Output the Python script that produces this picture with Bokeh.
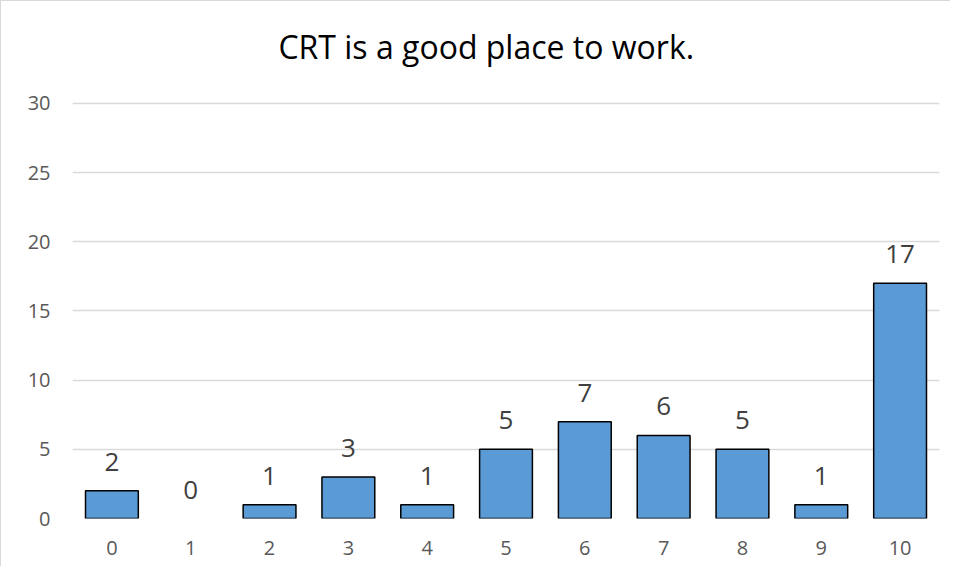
from bokeh.plotting import figure
from bokeh.models import ColumnDataSource, LabelSet, Label, FixedTicker, Range1d
from bokeh.core.properties import value
from bokeh.embed import file_html
from bokeh.resources import INLINE

categories = ["0", "1", "2", "3", "4", "5", "6", "7", "8", "9", "10"]
counts = [2, 0, 1, 3, 1, 5, 7, 6, 5, 1, 17]
y_ticks = [0, 5, 10, 15, 20, 25, 30]
title_text = "CRT is a good place to work."

src = ColumnDataSource(dict(cat=categories, val=counts, lab=[str(v) for v in counts],
                            edge=["black" if v > 0 else None for v in counts]))

# frame extends above the 30 gridline so the title can sit inside it
p = figure(x_range=categories, y_range=Range1d(0, 37.37), width=950, height=566,
           output_backend="svg", toolbar_location=None,
           min_border_left=71, min_border_right=12, min_border_top=0, min_border_bottom=49)
p.x_range.range_padding = 0
p.outline_line_color = None
p.background_fill_color = "white"
p.border_fill_color = "white"

p.vbar(x="cat", top="val", width=0.67, source=src,
       fill_color="#5B9BD5", line_color="edge", line_width=1.5)

labels = LabelSet(x="cat", y="val", text="lab", source=src, y_offset=20,
                  text_align="center", text_baseline="alphabetic",
                  text_font=value("Open Sans"), text_font_size=value("26px"),
                  text_color=value("#404040"))
p.add_layout(labels)

p.add_layout(Label(x=5.25, y=34.1, text=title_text, text_align="center",
                   text_baseline="alphabetic", text_font="Open Sans",
                   text_font_size="32px", text_color="#000000"))

p.yaxis.ticker = FixedTicker(ticks=y_ticks)
for ax in (p.xaxis, p.yaxis):
    ax.axis_line_color = None
    ax.major_tick_line_color = None
    ax.minor_tick_line_color = None
    ax.major_label_text_font = "Open Sans"
    ax.major_label_text_font_size = "20px"
    ax.major_label_text_color = "#595959"
p.yaxis.major_label_standoff = 16
p.xaxis.major_label_standoff = 16

p.xgrid.grid_line_color = None
p.ygrid.grid_line_color = "#d9d9d9"
p.ygrid.grid_line_width = 1.5

p.styles = {"border-left": "1px solid #d9d9d9", "border-top": "1px solid #d9d9d9"}

open("out.html", "w").write(file_html(p, INLINE))
